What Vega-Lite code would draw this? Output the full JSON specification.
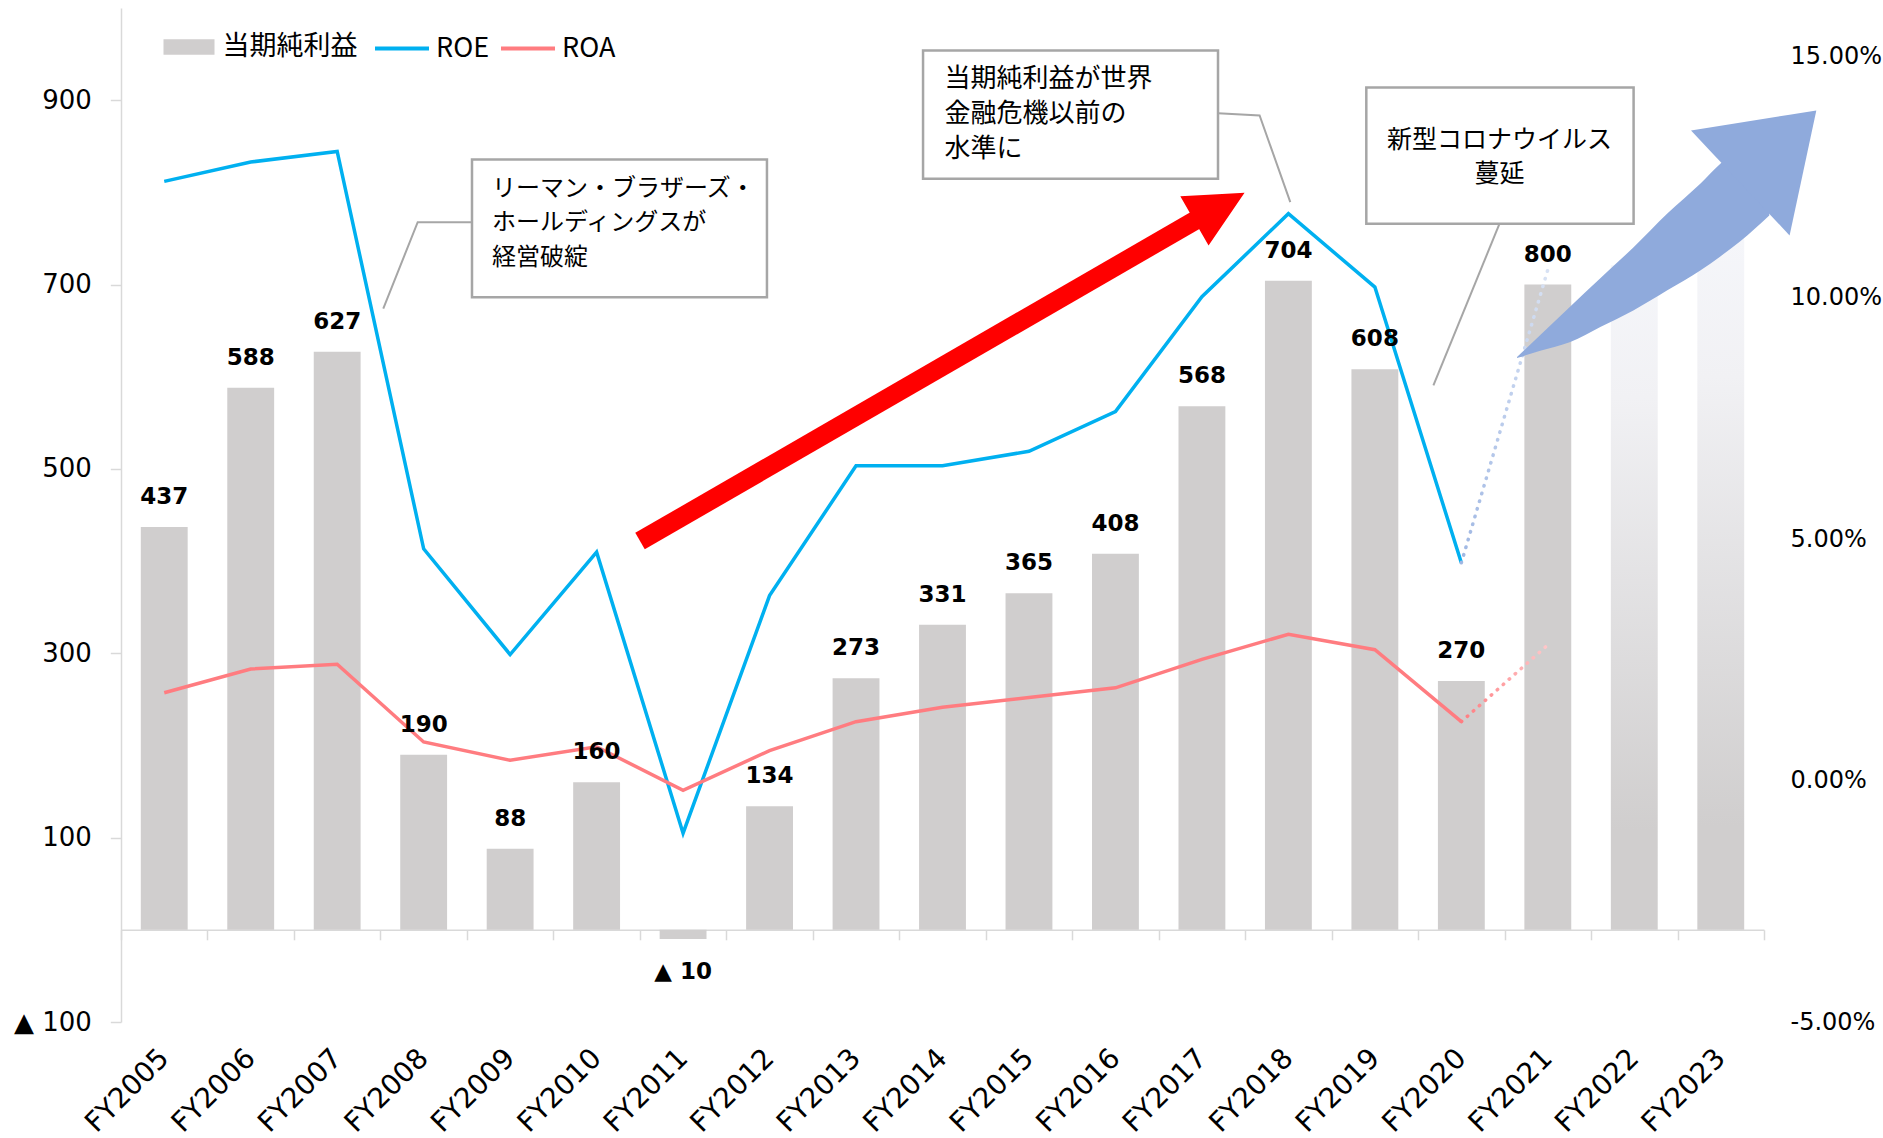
{
  "$schema": "https://vega.github.io/schema/vega-lite/v6.json",
  "width": 1643,
  "height": 1014,
  "autosize": {"type": "none"},
  "padding": {"left": 121, "top": 8, "right": 119, "bottom": 116},
  "background": "white",
  "config": {"view": {"stroke": null}, "font": "DejaVu Sans"},
  "datasets": {
    "fy": [
      {"year": "FY2005", "net": 437, "label": "437", "ROE": 12.41, "ROA": 1.82, "fc": false},
      {"year": "FY2006", "net": 588, "label": "588", "ROE": 12.81, "ROA": 2.31, "fc": false},
      {"year": "FY2007", "net": 627, "label": "627", "ROE": 13.03, "ROA": 2.41, "fc": false},
      {"year": "FY2008", "net": 190, "label": "190", "ROE": 4.80, "ROA": 0.80, "fc": false},
      {"year": "FY2009", "net": 88, "label": "88", "ROE": 2.61, "ROA": 0.42, "fc": false},
      {"year": "FY2010", "net": 160, "label": "160", "ROE": 4.73, "ROA": 0.70, "fc": false},
      {"year": "FY2011", "net": -10, "label": "▲ 10", "ROE": -1.09, "ROA": -0.20, "fc": false},
      {"year": "FY2012", "net": 134, "label": "134", "ROE": 3.83, "ROA": 0.62, "fc": false},
      {"year": "FY2013", "net": 273, "label": "273", "ROE": 6.52, "ROA": 1.22, "fc": false},
      {"year": "FY2014", "net": 331, "label": "331", "ROE": 6.52, "ROA": 1.52, "fc": false},
      {"year": "FY2015", "net": 365, "label": "365", "ROE": 6.82, "ROA": 1.72, "fc": false},
      {"year": "FY2016", "net": 408, "label": "408", "ROE": 7.64, "ROA": 1.92, "fc": false},
      {"year": "FY2017", "net": 568, "label": "568", "ROE": 10.02, "ROA": 2.51, "fc": false},
      {"year": "FY2018", "net": 704, "label": "704", "ROE": 11.74, "ROA": 3.03, "fc": false},
      {"year": "FY2019", "net": 608, "label": "608", "ROE": 10.22, "ROA": 2.71, "fc": false},
      {"year": "FY2020", "net": 270, "label": "270", "ROE": 4.51, "ROA": 1.22, "fc": false},
      {"year": "FY2021", "net": 700, "label": "800", "ROE": null, "ROA": null, "fc": false},
      {"year": "FY2022", "net": 721, "label": "", "ROE": null, "ROA": null, "fc": true},
      {"year": "FY2023", "net": 750, "label": "", "ROE": null, "ROA": null, "fc": true}
    ],
    "proj": [
      {"year": "FY2020", "series": "ROE", "val": 4.51},
      {"year": "FY2021", "series": "ROE", "val": 10.58},
      {"year": "FY2020", "series": "ROA", "val": 1.22},
      {"year": "FY2021", "series": "ROA", "val": 2.81}
    ],
    "boxes": [
      {"box": 1, "q": 4.059, "q2": 7.470, "v": 835.7, "v2": 686.3},
      {"box": 2, "q": 9.275, "q2": 12.686, "v": 953.9, "v2": 814.8},
      {"box": 3, "q": 14.401, "q2": 17.492, "v": 913.8, "v2": 766.0}
    ],
    "btext": [
      {"box": 1, "q": 4.290, "v": 803.7, "text": "リーマン・ブラザーズ・"},
      {"box": 1, "q": 4.290, "v": 766.3, "text": "ホールディングスが"},
      {"box": 1, "q": 4.290, "v": 728.3, "text": "経営破綻"},
      {"box": 2, "q": 9.524, "v": 922.5, "text": "当期純利益が世界"},
      {"box": 2, "q": 9.524, "v": 884.5, "text": "金融危機以前の"},
      {"box": 2, "q": 9.524, "v": 846.5, "text": "水準に"},
      {"box": 3, "q": 15.942, "v": 856.3, "text": "新型コロナウイルス"},
      {"box": 3, "q": 15.942, "v": 820.2, "text": "蔓延"}
    ],
    "leaders": [
      {"id": 1, "o": 0, "q": 4.066, "v": 767.7},
      {"id": 1, "o": 1, "q": 3.431, "v": 767.7},
      {"id": 1, "o": 2, "q": 3.033, "v": 673.8},
      {"id": 2, "o": 0, "q": 12.686, "v": 885.9},
      {"id": 2, "o": 1, "q": 13.167, "v": 883.4},
      {"id": 2, "o": 2, "q": 13.522, "v": 789.4},
      {"id": 3, "o": 0, "q": 15.938, "v": 765.2},
      {"id": 3, "o": 1, "q": 15.177, "v": 590.6}
    ],
    "shaft": [
      {"q": 6.002, "v": 421.7, "q2": 12.481, "v2": 772.7}
    ],
    "shapes": [
      {"shape": "redhead", "q": 12.250, "v": 795.9, "v2": 795.9},
      {"shape": "redhead", "q": 12.577, "v": 797.5, "v2": 742.4},
      {"shape": "redhead", "q": 12.993, "v": 799.6, "v2": 799.6},
      {"shape": "blueshaft", "q": 16.144, "v": 621.3, "v2": 620.4},
      {"shape": "blueshaft", "q": 16.413, "v": 645.3, "v2": 628.1},
      {"shape": "blueshaft", "q": 16.760, "v": 676.2, "v2": 637.6},
      {"shape": "blueshaft", "q": 17.107, "v": 706.9, "v2": 653.9},
      {"shape": "blueshaft", "q": 17.489, "v": 740.2, "v2": 671.9},
      {"shape": "blueshaft", "q": 17.882, "v": 777.1, "v2": 693.8},
      {"shape": "blueshaft", "q": 18.263, "v": 809.3, "v2": 715.3},
      {"shape": "blueshaft", "q": 18.495, "v": 831.0, "v2": 730.5},
      {"shape": "blueshaft", "q": 18.726, "v": 847.6, "v2": 747.0},
      {"shape": "blueshaft", "q": 19.061, "v": 856.3, "v2": 774.9},
      {"shape": "bluehead", "q": 18.156, "v": 867.1, "v2": 867.1},
      {"shape": "bluehead", "q": 19.296, "v": 884.2, "v2": 753.3},
      {"shape": "bluehead", "q": 19.605, "v": 888.8, "v2": 888.8}
    ]
  },
  "resolve": {"scale": {"x": "independent", "y": "independent", "color": "independent", "stroke": "independent"}, "legend": {"color": "independent", "stroke": "independent"}},
  "layer": [
    {
      "data": {"name": "fy"},
      "encoding": {
        "x": {
          "field": "year", "type": "nominal",
          "scale": {"type": "band", "domain": ["FY2005","FY2006","FY2007","FY2008","FY2009","FY2010","FY2011","FY2012","FY2013","FY2014","FY2015","FY2016","FY2017","FY2018","FY2019","FY2020","FY2021","FY2022","FY2023"], "paddingInner": 0.458, "paddingOuter": 0.229},
          "axis": null
        },
        "y": {
          "field": "net", "type": "quantitative",
          "scale": {"domain": [-100, 1000], "nice": false, "zero": false},
          "axis": {"orient": "left", "title": null, "grid": false, "values": [-100, 100, 300, 500, 700, 900], "labelExpr": "datum.value < 0 ? '▲ ' + format(-datum.value, 'd') : format(datum.value, 'd')", "domainColor": "#d9d9d9", "domainWidth": 1.5, "tickColor": "#d9d9d9", "tickWidth": 1.5, "tickSize": 10.7, "labelFont": "DejaVu Sans", "labelFontSize": 26, "labelColor": "#000000", "labelPadding": 19}
        }
      },
      "layer": [
        {
          "transform": [{"filter": "!datum.fc"}],
          "mark": {"type": "bar"},
          "encoding": {
            "color": {"datum": "当期純利益", "type": "nominal", "scale": {"range": ["#d0cece"]},
              "legend": {"orient": "none", "legendX": 42.5, "legendY": 13.5, "title": null, "padding": 0, "symbolType": "M-1,-0.3L1,-0.3L1,0.3L-1,0.3Z", "symbolSize": 2601, "symbolStrokeWidth": 0, "labelFont": "Noto Sans CJK JP", "labelFontSize": 27, "labelColor": "#000000", "labelOffset": 8}}
          }
        },
        {
          "transform": [{"filter": "datum.fc"}],
          "mark": {"type": "bar", "color": {"gradient": "linear", "x1": 0, "y1": 0, "x2": 0, "y2": 1, "stops": [{"offset": 0, "color": "#f5f6fa"}, {"offset": 0.2, "color": "#f1f1f4"}, {"offset": 0.85, "color": "#d0cece"}, {"offset": 1, "color": "#d0cece"}]}}
        }
      ]
    },
    {
      "encoding": {
        "x": {
          "field": "year", "type": "nominal",
          "scale": {"type": "point", "domain": ["FY2005","FY2006","FY2007","FY2008","FY2009","FY2010","FY2011","FY2012","FY2013","FY2014","FY2015","FY2016","FY2017","FY2018","FY2019","FY2020","FY2021","FY2022","FY2023"], "padding": 0.5},
          "axis": null
        },
        "y": {
          "field": "val", "type": "quantitative",
          "scale": {"domain": [-5, 16], "nice": false, "zero": false},
          "axis": {"orient": "right", "title": null, "grid": false, "values": [-5, 0, 5, 10, 15], "labelExpr": "replace(format(datum.value, '.2f'), '−', '-') + '%'", "domain": false, "ticks": false, "labelPadding": 26, "labelAlign": "left", "labelFont": "DejaVu Sans", "labelFontSize": 24, "labelColor": "#000000"}
        }
      },
      "layer": [
        {
          "data": {"name": "fy"},
          "transform": [{"fold": ["ROE", "ROA"], "as": ["series", "val"]}, {"filter": "datum.val != null"}],
          "mark": {"type": "line", "strokeWidth": 3.5, "strokeJoin": "miter"},
          "encoding": {
            "stroke": {"field": "series", "type": "nominal", "scale": {"domain": ["ROE", "ROA"], "range": ["#00b0f0", "#ff7c80"]},
              "legend": {"orient": "none", "legendX": 252, "legendY": 11.5, "direction": "horizontal", "title": null, "padding": 0, "symbolType": "stroke", "symbolSize": 2916, "symbolStrokeWidth": 4, "labelFont": "Noto Sans CJK JP", "labelFontSize": 27, "labelColor": "#000000", "labelOffset": 5, "columnPadding": 3}}
          }
        },
        {
          "data": {"name": "proj"},
          "transform": [{"filter": "datum.series == 'ROE'"}],
          "mark": {"type": "line", "strokeWidth": 3.5, "strokeCap": "round", "strokeDash": [0.5, 7.5], "stroke": {"gradient": "linear", "x1": 0, "y1": 0, "x2": 1, "y2": 0, "stops": [{"offset": 0, "color": "#9fb7e3"}, {"offset": 1, "color": "#d8e2f4"}]}}
        },
        {
          "data": {"name": "proj"},
          "transform": [{"filter": "datum.series == 'ROA'"}],
          "mark": {"type": "line", "strokeWidth": 3.5, "strokeCap": "round", "strokeDash": [0.5, 7.5], "stroke": {"gradient": "linear", "x1": 0, "y1": 0, "x2": 1, "y2": 0, "stops": [{"offset": 0, "color": "#ff7c80"}, {"offset": 1, "color": "#ffc8ca"}]}}
        }
      ]
    },
    {
      "data": {"name": "fy"},
      "encoding": {
        "x": {
          "field": "year", "type": "nominal",
          "scale": {"type": "band", "domain": ["FY2005","FY2006","FY2007","FY2008","FY2009","FY2010","FY2011","FY2012","FY2013","FY2014","FY2015","FY2016","FY2017","FY2018","FY2019","FY2020","FY2021","FY2022","FY2023"], "paddingInner": 0, "paddingOuter": 0},
          "axis": {"orient": "bottom", "offset": -92.2, "title": null, "grid": false, "domainColor": "#d9d9d9", "domainWidth": 1.5, "tickColor": "#d9d9d9", "tickWidth": 1.5, "tickSize": 10, "tickBand": "extent", "labelAngle": -45, "labelAlign": "right", "labelBaseline": "middle", "labelFont": "DejaVu Sans", "labelFontSize": 28, "labelColor": "#000000", "labelPadding": 114, "labelOverlap": false}
        },
        "y": {"field": "net", "type": "quantitative", "scale": {"domain": [-100, 1000], "nice": false, "zero": false}, "axis": null},
        "text": {"field": "label", "type": "nominal"}
      },
      "layer": [
        {
          "transform": [{"filter": "datum.net >= 0 && datum.label != ''"}],
          "mark": {"type": "text", "font": "DejaVu Sans", "fontWeight": "bold", "fontSize": 23, "color": "#000000", "baseline": "middle", "align": "center", "dy": -30}
        },
        {
          "transform": [{"filter": "datum.net < 0"}],
          "mark": {"type": "text", "font": "DejaVu Sans", "fontWeight": "bold", "fontSize": 23, "color": "#000000", "baseline": "middle", "align": "center", "dy": 33}
        }
      ]
    },
    {
      "encoding": {
        "x": {"field": "q", "type": "quantitative", "scale": {"domain": [0, 19], "nice": false, "zero": false}, "axis": null},
        "y": {"field": "v", "type": "quantitative", "scale": {"domain": [-100, 1000], "nice": false, "zero": false}, "axis": null}
      },
      "layer": [
        {
          "data": {"name": "shaft"},
          "mark": {"type": "rule", "color": "#ff0000", "strokeWidth": 19, "strokeCap": "butt"},
          "encoding": {"x2": {"field": "q2"}, "y2": {"field": "v2"}}
        },
        {
          "data": {"name": "shapes"},
          "transform": [{"filter": "datum.shape == 'redhead'"}],
          "mark": {"type": "area", "color": "#ff0000"},
          "encoding": {"y2": {"field": "v2"}}
        },
        {
          "data": {"name": "shapes"},
          "transform": [{"filter": "datum.shape == 'blueshaft'"}],
          "mark": {"type": "area", "color": "#8faadc", "interpolate": "monotone"},
          "encoding": {"y2": {"field": "v2"}}
        },
        {
          "data": {"name": "shapes"},
          "transform": [{"filter": "datum.shape == 'bluehead'"}],
          "mark": {"type": "area", "color": "#8faadc"},
          "encoding": {"y2": {"field": "v2"}}
        },
        {
          "data": {"name": "boxes"},
          "mark": {"type": "rect", "fill": "#ffffff", "stroke": "#a6a6a6", "strokeWidth": 2.5},
          "encoding": {"x2": {"field": "q2"}, "y2": {"field": "v2"}}
        },
        {
          "data": {"name": "leaders"},
          "mark": {"type": "line", "color": "#a6a6a6", "strokeWidth": 2},
          "encoding": {"detail": {"field": "id", "type": "nominal"}, "order": {"field": "o", "type": "quantitative"}}
        },
        {
          "data": {"name": "btext"},
          "transform": [{"filter": "datum.box == 1"}],
          "mark": {"type": "text", "font": "Noto Sans CJK JP", "fontSize": 24, "color": "#000000", "align": "left", "baseline": "middle"},
          "encoding": {"text": {"field": "text", "type": "nominal"}}
        },
        {
          "data": {"name": "btext"},
          "transform": [{"filter": "datum.box == 2"}],
          "mark": {"type": "text", "font": "Noto Sans CJK JP", "fontSize": 26, "color": "#000000", "align": "left", "baseline": "middle"},
          "encoding": {"text": {"field": "text", "type": "nominal"}}
        },
        {
          "data": {"name": "btext"},
          "transform": [{"filter": "datum.box == 3"}],
          "mark": {"type": "text", "font": "Noto Sans CJK JP", "fontSize": 25, "color": "#000000", "align": "center", "baseline": "middle"},
          "encoding": {"text": {"field": "text", "type": "nominal"}}
        }
      ]
    }
  ]
}
